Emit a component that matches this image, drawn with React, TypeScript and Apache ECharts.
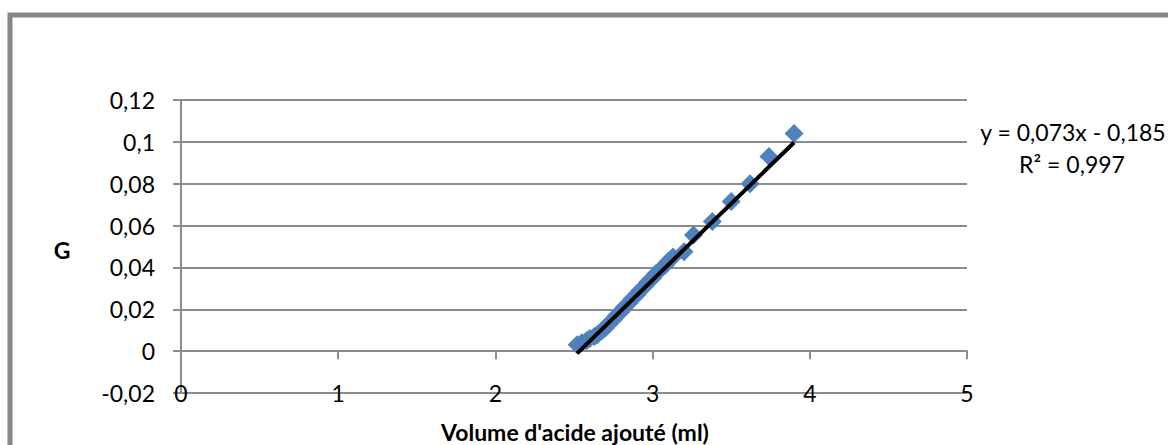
import React, { useEffect, useRef } from "react";
import * as echarts from "echarts";

const volumeX: number[] = [
  2.52, 2.55, 2.58, 2.6, 2.63, 2.65, 2.68, 2.7, 2.72, 2.75, 2.77, 2.8, 2.82, 2.85,
  2.87, 2.9, 2.92, 2.95, 2.97, 3.0, 3.02, 3.05, 3.08, 3.1, 3.13, 3.2, 3.26, 3.38,
  3.5, 3.62, 3.74, 3.9,
];
const gValues: number[] = [
  0.003, 0.004, 0.005, 0.006, 0.007, 0.008, 0.01, 0.011, 0.013, 0.015, 0.017, 0.019,
  0.021, 0.023, 0.025, 0.027, 0.029, 0.031, 0.033, 0.035, 0.037, 0.039, 0.041, 0.043,
  0.045, 0.0475, 0.0555, 0.062, 0.0715, 0.08, 0.093, 0.104,
];
const trendSlope = 0.073;
const trendIntercept = -0.185;
const rSquared = 0.997;
const yTicks: number[] = [-0.02, 0, 0.02, 0.04, 0.06, 0.08, 0.1, 0.12];
const yTickLabels: string[] = ["-0,02", "0", "0,02", "0,04", "0,06", "0,08", "0,1", "0,12"];
const xTickLabels: string[] = ["0", "1", "2", "3", "4", "5"];

const FONT = "Lato, 'Open Sans', sans-serif";
const GRID_COLOR = "#8c8c8c";
const FS = 23;

const fmt = (v: number) => String(v).replace(".", ",");

export default function App() {
  const ref = useRef<HTMLDivElement>(null);
  useEffect(() => {
    if (!ref.current) return;
    const chart = echarts.init(ref.current, undefined, { renderer: "svg" });
    const xMin = Math.min(...volumeX);
    const xMax = Math.max(...volumeX);
    const trend = [
      [xMin, trendSlope * xMin + trendIntercept],
      [xMax, trendSlope * xMax + trendIntercept],
    ];
    const eq1 = `y = ${fmt(trendSlope)}x - ${fmt(-trendIntercept)}`;
    const eq2 = `R² = ${fmt(rSquared)}`;
    chart.setOption({
      animation: false,
      backgroundColor: "#ffffff",
      textStyle: { fontFamily: FONT },
      grid: { left: 181, right: 201, top: 100, bottom: 52, containLabel: false },
      xAxis: [
        {
          type: "value",
          min: 0,
          max: 5,
          interval: 1,
          position: "bottom",
          axisLine: { show: true, onZero: false, lineStyle: { color: GRID_COLOR, width: 2 } },
          axisTick: { show: false },
          splitLine: { show: false },
          axisLabel: {
            show: true,
            margin: -12,
            fontSize: FS,
            fontFamily: FONT,
            color: "#000",
            formatter: (v: number) => xTickLabels[Math.round(v)] ?? "",
          },
        },
        {
          type: "value",
          min: 0,
          max: 5,
          interval: 1,
          position: "top",
          axisLine: { show: true, onZero: true, lineStyle: { color: GRID_COLOR, width: 2 } },
          axisTick: { show: true, inside: true, length: 8, lineStyle: { color: GRID_COLOR, width: 2 } },
          splitLine: { show: false },
          axisLabel: { show: false },
        },
      ],
      yAxis: {
        type: "value",
        min: -0.02,
        max: 0.12,
        interval: 0.02,
        axisLine: { show: true, onZero: false, lineStyle: { color: GRID_COLOR, width: 2 } },
        axisTick: { show: true, length: 8, lineStyle: { color: GRID_COLOR, width: 2 } },
        splitLine: { show: true, lineStyle: { color: GRID_COLOR, width: 2 } },
        axisLabel: {
          margin: 26,
          fontSize: FS,
          fontFamily: FONT,
          color: "#000",
          formatter: (v: number) => {
            const i = yTicks.findIndex((t) => Math.abs(t - v) < 1e-9);
            return i >= 0 ? yTickLabels[i] : "";
          },
        },
      },
      series: [
        {
          type: "scatter",
          xAxisIndex: 0,
          yAxisIndex: 0,
          symbol: "diamond",
          symbolSize: 19,
          itemStyle: { color: "#4F81BD", opacity: 1 },
          data: volumeX.map((x, i) => [x, gValues[i]]),
          z: 2,
        },
        {
          type: "line",
          xAxisIndex: 0,
          yAxisIndex: 0,
          showSymbol: false,
          symbol: "none",
          lineStyle: { color: "#000", width: 4 },
          data: trend,
          z: 3,
        },
      ],
      graphic: [
        {
          type: "rect",
          shape: { x: 10, y: 15, width: 1300, height: 600 },
          style: { fill: "none", stroke: "#868686", lineWidth: 5 },
          silent: true,
        },
        {
          type: "text",
          x: 62,
          y: 250,
          style: {
            text: "G",
            fontSize: FS,
            fontWeight: "bold",
            fontFamily: FONT,
            fill: "#000",
            textAlign: "center",
            textVerticalAlign: "middle",
          },
        },
        {
          type: "text",
          x: 575,
          y: 432,
          style: {
            text: "Volume d'acide ajouté (ml)",
            fontSize: FS,
            fontWeight: "bold",
            fontFamily: FONT,
            fill: "#000",
            textAlign: "center",
            textVerticalAlign: "middle",
          },
        },
        {
          type: "text",
          x: 1073,
          y: 132,
          style: {
            text: eq1,
            fontSize: FS,
            fontFamily: FONT,
            fill: "#000",
            textAlign: "center",
            textVerticalAlign: "middle",
          },
        },
        {
          type: "text",
          x: 1072,
          y: 164,
          style: {
            text: eq2,
            fontSize: FS,
            fontFamily: FONT,
            fill: "#000",
            textAlign: "center",
            textVerticalAlign: "middle",
          },
        },
      ],
    });
    return () => chart.dispose();
  }, []);
  return (
    <div
      ref={ref}
      style={{ position: "fixed", left: 0, top: 0, width: 1168, height: 445, background: "#fff" }}
    />
  );
}
